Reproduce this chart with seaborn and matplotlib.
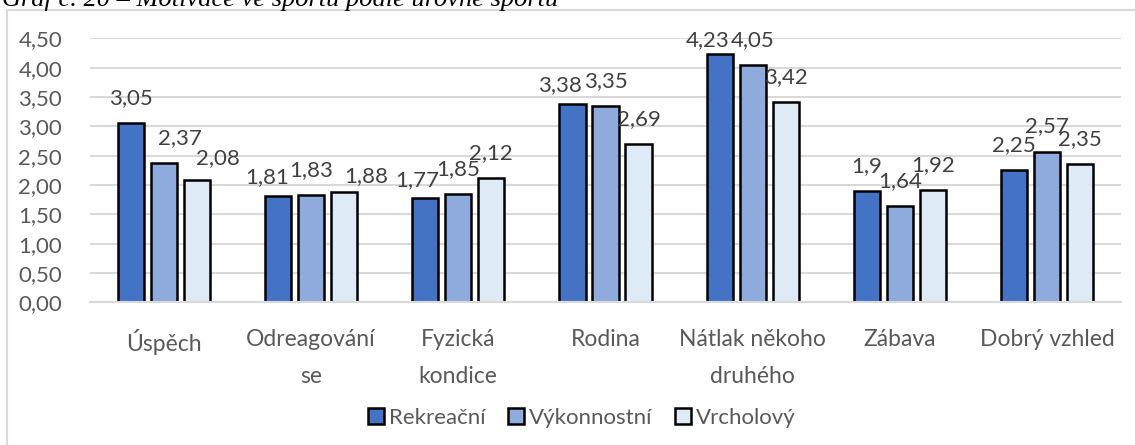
import pandas as pd
import matplotlib
matplotlib.use("Agg")
import matplotlib.pyplot as plt
import seaborn as sns
from matplotlib.patches import Patch

# Data
categories = ["Úspěch", "Odreagování\nse", "Fyzická\nkondice", "Rodina",
              "Nátlak někoho\ndruhého", "Zábava", "Dobrý vzhled"]
levels = ["Rekreační", "Výkonnostní", "Vrcholový"]
rekreacni = [3.05, 1.81, 1.77, 3.38, 4.23, 1.90, 2.25]
vykonnostni = [2.37, 1.83, 1.85, 3.35, 4.05, 1.64, 2.57]
vrcholovy = [2.08, 1.88, 2.12, 2.69, 3.42, 1.92, 2.35]

df = pd.DataFrame({
    "Kategorie": categories * 3,
    "Úroveň": [l for l in levels for _ in categories],
    "Hodnota": rekreacni + vykonnostni + vrcholovy,
})

colors = ["#4472C4", "#8FAADC", "#DEEBF7"]
text_col = "#595959"
grid_col = "#D9D9D9"
fs = 16

sns.set_theme(style="white")
plt.rcParams["font.family"] = ["Lato", "DejaVu Sans"]

fig = plt.figure(figsize=(11.35, 4.45), dpi=100)
ax = fig.add_axes([90 / 1135, 1 - 302.3 / 445, (1121 - 90) / 1135, (302.3 - 38.3) / 445])

sns.barplot(data=df, x="Kategorie", y="Hodnota", hue="Úroveň", palette=colors,
            saturation=1, edgecolor="black", linewidth=1.8, width=0.672, gap=0.21,
            legend=False, ax=ax)

ax.set_ylim(0, 4.5)
ax.set_xlim(-0.5, 6.5)
yt = [i * 0.5 for i in range(10)]
ax.set_yticks(yt)
ax.set_yticklabels([f"{v:.2f}".replace(".", ",") for v in yt])
ax.yaxis.grid(True, color=grid_col, linewidth=1.5)
ax.set_axisbelow(True)
for s in ["top", "right", "left"]:
    ax.spines[s].set_visible(False)
ax.spines["bottom"].set_color(grid_col)
ax.spines["bottom"].set_linewidth(1.5)
ax.tick_params(axis="y", length=0, pad=20, labelsize=fs, labelcolor=text_col)
ax.tick_params(axis="x", length=0, pad=19, labelsize=16.5, labelcolor=text_col)
for t in ax.get_xticklabels():
    t.set_linespacing(1.95)
    t.set_verticalalignment("top")
ax.set_xlabel("")
ax.set_ylabel("")

# value labels (a few were moved by hand in the original)
nudges = {(0, 1): (16, 0), (0, 2): (21, -3), (1, 0): (-11, -6), (1, 2): (22, -9),
          (2, 0): (-8, -7), (3, 0): (-13, -6), (4, 0): (-12, -11)}
for i, cont in enumerate(ax.containers):
    for j, bar in enumerate(cont):
        h = bar.get_height()
        dx, dy = nudges.get((j, i), (0, 0))
        ax.annotate(str(round(h, 2)).replace(".", ","),
                    (bar.get_x() + bar.get_width() / 2, h),
                    xytext=(dx, 25 + dy), textcoords="offset pixels",
                    ha="center", va="center", fontsize=fs, color="#404040")

handles = [Patch(facecolor=c, edgecolor="black", linewidth=1.8) for c in colors]
fig.legend(handles, levels, loc="center", bbox_to_anchor=(582 / 1135, 1 - 418 / 445),
           ncol=3, frameon=False, fontsize=fs, labelcolor=text_col,
           handlelength=0.7, handleheight=0.7, handletextpad=0.25, columnspacing=1.0)

# chart area border (continues past the image edges)
fig.add_artist(plt.Line2D([7 / 1135, 7 / 1135], [0, 1 - 10 / 445], color=grid_col,
                          linewidth=1.5, transform=fig.transFigure))
fig.add_artist(plt.Line2D([7 / 1135, 1], [1 - 10 / 445, 1 - 10 / 445], color=grid_col,
                          linewidth=1.5, transform=fig.transFigure))

# caption above the chart, cut off by the image edge as in the source
fig.text(2 / 1135, 1 - 6 / 445, "Graf č. 20 – Motivace ve sportu podle úrovně sportu",
         family=["Liberation Serif", "DejaVu Serif"], style="italic", fontsize=19,
         color="black", ha="left", va="baseline")

fig.savefig("out.png", dpi=100)
